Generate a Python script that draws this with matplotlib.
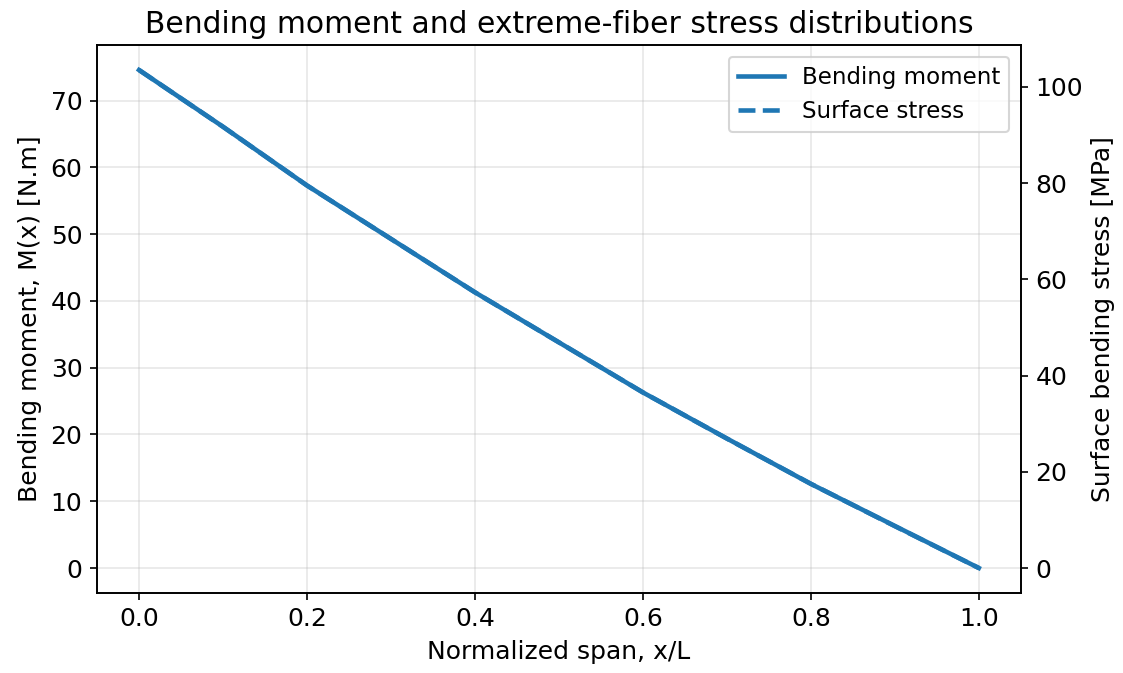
import matplotlib
matplotlib.use("Agg")
import matplotlib.pyplot as plt

# values
x_norm = [0.0, 0.1, 0.2, 0.3, 0.4, 0.5, 0.6, 0.7, 0.8, 0.9, 1.0]
moment = [74.6, 66.1, 57.3, 49.3, 41.3, 33.8, 26.3, 19.4, 12.6, 6.3, 0.0]
stress = [103.5, 91.7, 79.5, 68.4, 57.3, 46.9, 36.5, 26.9, 17.5, 8.7, 0.0]

plt.rcParams["font.size"] = 12

fig, ax1 = plt.subplots(figsize=(1123 / 150, 673 / 150), dpi=150)
l1, = ax1.plot(x_norm, moment, color="C0", lw=2.2, label="Bending moment")
ax1.set_xlabel("Normalized span, x/L")
ax1.set_ylabel("Bending moment, M(x) [N.m]")
ax1.grid(True, alpha=0.3)

ax2 = ax1.twinx()
l2, = ax2.plot(x_norm, stress, color="C0", lw=2.2, ls="--", label="Surface stress")
ax2.set_ylabel("Surface bending stress [MPa]")

ax1.legend(handles=[l1, l2], loc="upper right", fontsize=11)
ax1.set_title("Bending moment and extreme-fiber stress distributions", fontsize=14.3)

fig.subplots_adjust(left=0.0864, right=0.909, top=0.933, bottom=0.119)
fig.savefig("out.png", dpi=150)
